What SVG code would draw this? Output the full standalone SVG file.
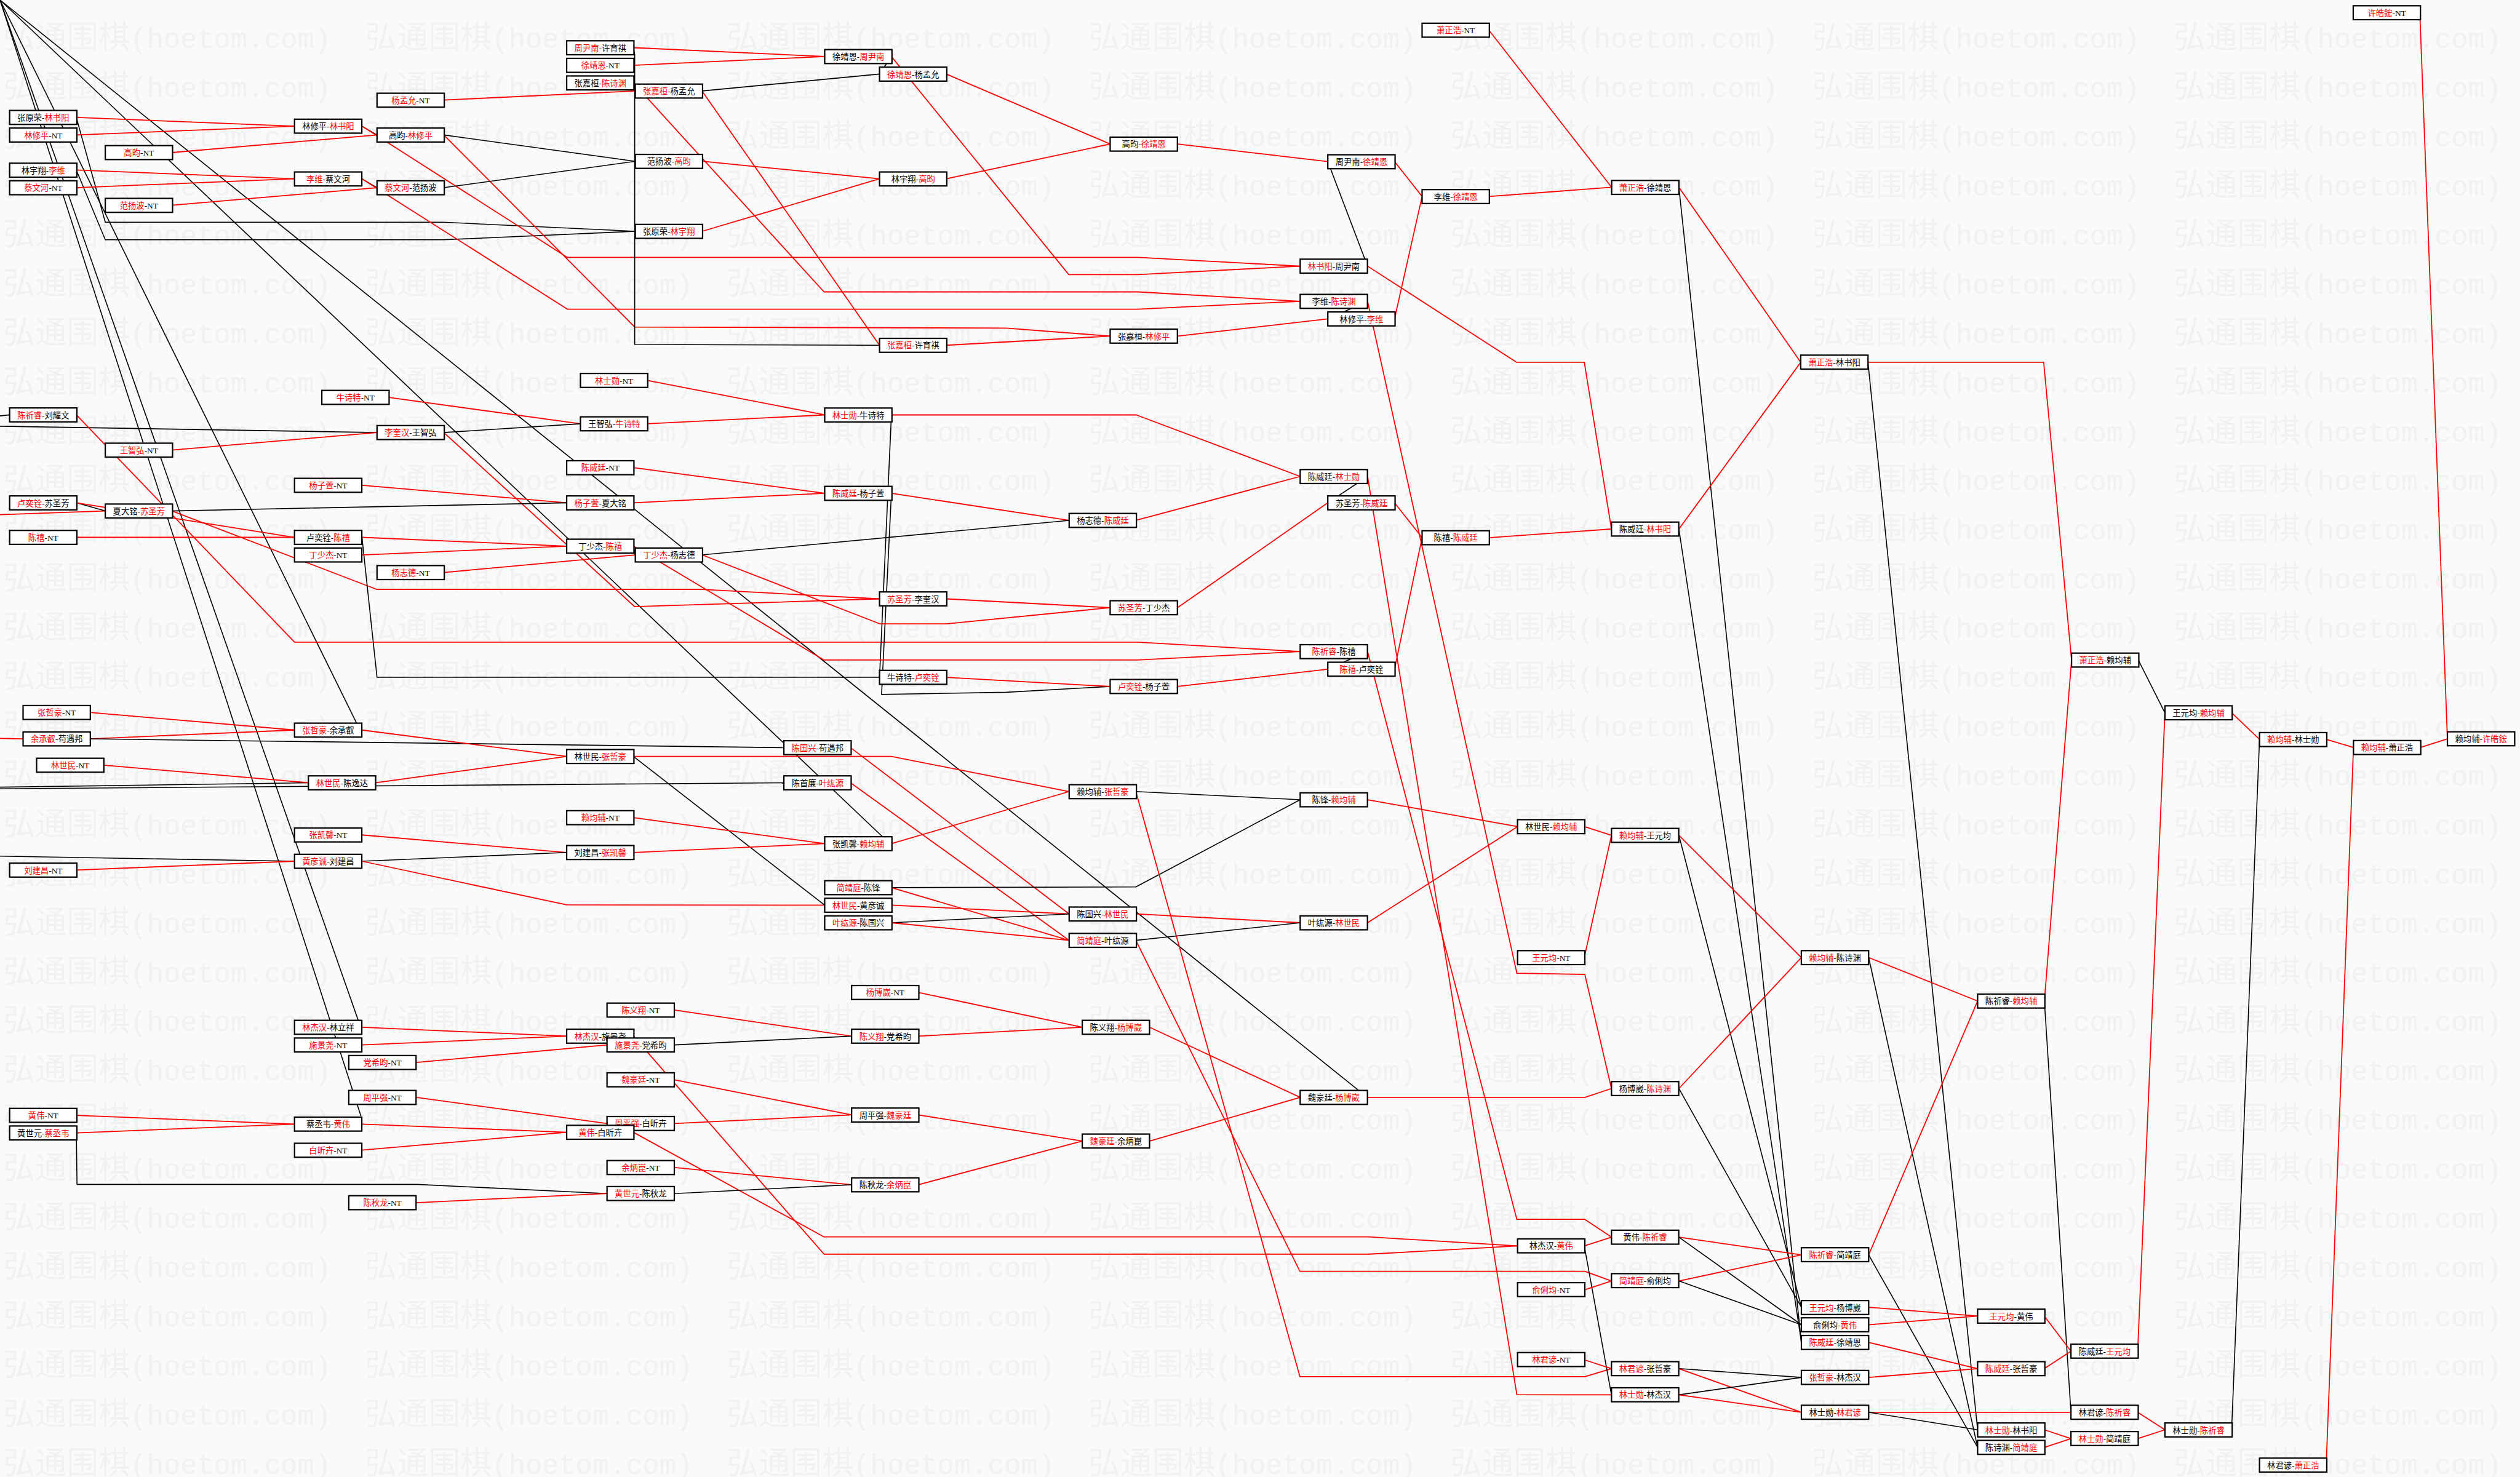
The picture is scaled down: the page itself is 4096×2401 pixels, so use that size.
<svg xmlns="http://www.w3.org/2000/svg" width="4096" height="2401" viewBox="0 0 4096 2401">
<style>
.e{fill:none;stroke-width:2;stroke-linejoin:round}
.r{stroke:#ff0000}
.k{stroke:#000000;stroke-width:1.8}
.node rect{fill:#ffffff;stroke:#000000;stroke-width:2.5}
.node text{font-family:"Liberation Serif","Noto Sans CJK SC",serif;font-size:15px;text-anchor:middle;fill:#000000}
.rt{fill:#ff0000}
.wm{font-family:"Liberation Mono","Noto Sans CJK SC",monospace;fill:#f1f1f1}
</style>
<defs>
<g id="wmrow" class="wm">
<text x="6"><tspan font-size="58">弘通围棋</tspan><tspan font-size="51">(hoetom.com)</tspan></text>
<text x="667.5"><tspan font-size="58">弘通围棋</tspan><tspan font-size="51">(hoetom.com)</tspan></text>
<text x="1329"><tspan font-size="58">弘通围棋</tspan><tspan font-size="51">(hoetom.com)</tspan></text>
<text x="1990.5"><tspan font-size="58">弘通围棋</tspan><tspan font-size="51">(hoetom.com)</tspan></text>
<text x="2652"><tspan font-size="58">弘通围棋</tspan><tspan font-size="51">(hoetom.com)</tspan></text>
<text x="3313.5"><tspan font-size="58">弘通围棋</tspan><tspan font-size="51">(hoetom.com)</tspan></text>
<text x="3975"><tspan font-size="58">弘通围棋</tspan><tspan font-size="51">(hoetom.com)</tspan></text>
</g>
</defs>
<rect x="0" y="0" width="4096" height="2401" fill="#fafafa"/>
<g transform="scale(0.888889)">
<g id="watermark">
<use href="#wmrow" y="88"/><use href="#wmrow" y="177.9"/><use href="#wmrow" y="267.8"/><use href="#wmrow" y="357.7"/><use href="#wmrow" y="447.6"/><use href="#wmrow" y="537.5"/><use href="#wmrow" y="627.4"/><use href="#wmrow" y="717.3"/><use href="#wmrow" y="807.2"/><use href="#wmrow" y="897.1"/><use href="#wmrow" y="987"/><use href="#wmrow" y="1076.9"/><use href="#wmrow" y="1166.8"/><use href="#wmrow" y="1256.7"/><use href="#wmrow" y="1346.6"/><use href="#wmrow" y="1436.5"/><use href="#wmrow" y="1526.4"/><use href="#wmrow" y="1616.3"/><use href="#wmrow" y="1706.2"/><use href="#wmrow" y="1796.1"/><use href="#wmrow" y="1886"/><use href="#wmrow" y="1975.9"/><use href="#wmrow" y="2065.8"/><use href="#wmrow" y="2155.7"/><use href="#wmrow" y="2245.6"/><use href="#wmrow" y="2335.5"/><use href="#wmrow" y="2425.4"/><use href="#wmrow" y="2515.3"/><use href="#wmrow" y="2605.2"/><use href="#wmrow" y="2695.1"/>
</g>
<g id="connectors" class="e">
<polyline class="k" points="0,0 2485.5,1995"/>
<polyline class="k" points="0,0 1621,1537"/>
<polyline class="k" points="0,0 656,1330.5"/>
<polyline class="k" points="0,0 660,2041"/>
<polyline class="k" points="0,0 660,1880"/>
<polyline class="k" points="0,760.6 17.6,758.7"/>
<polyline class="k" points="0,779.5 689.4,791"/>
<polyline class="r" points="0,941.3 192.5,934.4"/>
<polyline class="r" points="0,1350.5 42.2,1351.2"/>
<polyline class="k" points="0,1439.6 563.9,1431.5"/>
<polyline class="k" points="0,1442.5 1433.4,1431.5"/>
<polyline class="k" points="0,1565.8 538.6,1575"/>
<polyline class="r" points="139.6,214.7 538.6,230.7"/>
<polyline class="k" points="139.6,214.7 192.5,406.4 810,406.4 1161.7,423"/>
<polyline class="r" points="139.6,246.8 538.6,230.7"/>
<polyline class="r" points="314.5,279 689.4,246.8"/>
<polyline class="r" points="139.6,311 538.6,327"/>
<polyline class="k" points="139.6,311 192.5,438.5 810,438.5 1161.7,423"/>
<polyline class="r" points="139.6,343.2 538.6,327"/>
<polyline class="r" points="314.5,375.4 689.4,343.2"/>
<polyline class="k" points="661.9,230.7 689.4,246.8"/>
<polyline class="r" points="661.9,230.7 1037.4,470.7 2080.6,470.7 2377.5,486.7"/>
<polyline class="k" points="811.5,246.8 1161.7,295"/>
<polyline class="r" points="811.5,246.8 1160.6,598 1840,600 2030,614.7"/>
<polyline class="k" points="661.9,327 689.4,343.2"/>
<polyline class="r" points="661.9,327 1037.4,565.4 2080.6,565.4 2377.5,551"/>
<polyline class="k" points="811.5,343.2 1161.7,295"/>
<polyline class="r" points="811.5,183 1161.7,166.4"/>
<polyline class="r" points="711.7,727 1061.4,775"/>
<polyline class="r" points="139.6,758.7 538.6,1174.4 2080.6,1174.4 2377.5,1191.6"/>
<polyline class="k" points="811.5,791 1061.4,775"/>
<polyline class="r" points="811.5,791 1160.6,1109.5 1608.3,1095.2"/>
<polyline class="r" points="314.5,823 689.4,791"/>
<polyline class="r" points="661.9,887.4 1036.2,919.5"/>
<polyline class="r" points="1158.2,87.2 1508,103.3"/>
<polyline class="k" points="1158.2,87.2 1160.6,100 1160.6,630 1608.3,631.4"/>
<polyline class="r" points="1158.2,119.4 1508,103.3"/>
<polyline class="k" points="1158.2,151.5 1161.7,166.4"/>
<polyline class="r" points="1158.2,151.5 1506.8,533.8 2080.6,533.8 2377.5,551"/>
<polyline class="k" points="1283.8,166.4 1608.3,135.4"/>
<polyline class="r" points="1283.8,166.4 1608.3,631.4"/>
<polyline class="k" points="1630,103.3 1608.3,135.4"/>
<polyline class="r" points="1630,103.3 1954.4,502.2 2080.6,502.2 2377.5,486.7"/>
<polyline class="r" points="1730.3,135.4 2030,263.4"/>
<polyline class="r" points="1283.8,295 1608.3,327"/>
<polyline class="r" points="1283.8,423 1608.3,327"/>
<polyline class="r" points="1730.3,327 2030,263.4"/>
<polyline class="r" points="1730.3,631.4 2030,614.7"/>
<polyline class="r" points="1183.5,695.6 1508,758.8"/>
<polyline class="r" points="1183.5,775 1508,758.8"/>
<polyline class="r" points="1630,758.8 2077.7,758.8 2377.5,871.3"/>
<polyline class="k" points="1630,758.8 1608.3,1238.7"/>
<polyline class="r" points="1158.2,855.2 1508,902"/>
<polyline class="r" points="1630,902 1955,951.7"/>
<polyline class="k" points="1630,902 1612,1270 1840,1266 2030,1255.4"/>
<polyline class="r" points="2153.3,263.4 2428,295.5"/>
<polyline class="r" points="2550,295.5 2600.4,359.3"/>
<polyline class="k" points="2500.7,486.7 2428,295.5"/>
<polyline class="r" points="2500.7,486.7 2772.9,662.4 2897,662.4 2946.7,967.5"/>
<polyline class="k" points="2500.7,551 2428,583.2"/>
<polyline class="r" points="2500.7,551 2773.7,1779.8 2898,1782 2946.7,1990.7"/>
<polyline class="r" points="2550,583.2 2600.4,359.3"/>
<polyline class="r" points="2153.3,614.7 2428,583.2"/>
<polyline class="k" points="2500.7,871.3 2428,919.5"/>
<polyline class="r" points="2500.7,871.3 2773.7,2550.6 2946.7,2550.8"/>
<polyline class="k" points="139.6,919.5 192.5,934.4"/>
<polyline class="r" points="139.6,919.5 538.6,982.7"/>
<polyline class="k" points="314.5,934.4 1036.2,919.5"/>
<polyline class="r" points="314.5,934.4 689.4,1078 1283.8,1078 1608.3,1095.2"/>
<polyline class="r" points="139.6,982.7 538.6,982.7"/>
<polyline class="r" points="661.9,982.7 1036.2,998.8"/>
<polyline class="k" points="661.9,982.7 689.4,1238.6 1608.3,1238.7"/>
<polyline class="r" points="661.9,1014.8 1036.2,998.8"/>
<polyline class="r" points="811.5,1047 1161.7,1014.8"/>
<polyline class="r" points="164.3,1303 538.6,1335.1"/>
<polyline class="r" points="164.3,1351.2 538.6,1335.1"/>
<polyline class="k" points="164.3,1351.2 1433.4,1367.3"/>
<polyline class="r" points="190.1,1399.4 563.9,1431.5"/>
<polyline class="r" points="661.9,1335.1 1036.2,1383.3"/>
<polyline class="r" points="687.1,1431.5 1036.2,1383.3"/>
<polyline class="r" points="661.9,1526.9 1036.2,1559"/>
<polyline class="k" points="661.9,1575 1036.2,1559"/>
<polyline class="r" points="661.9,1575 1036.2,1654.8 1508,1655.4"/>
<polyline class="r" points="139.6,1591.1 538.6,1575"/>
<polyline class="r" points="1158.2,919.5 1508,902"/>
<polyline class="k" points="1158.2,998.8 1161.7,1014.8"/>
<polyline class="r" points="1158.2,998.8 1506.8,1207 2080.6,1207 2377.5,1191.6"/>
<polyline class="k" points="1283.8,1014.8 1955,951.7"/>
<polyline class="r" points="1283.8,1014.8 1609.4,1141 1730.3,1141 2030,1111.3"/>
<polyline class="r" points="1730.3,1095.2 2030,1111.3"/>
<polyline class="r" points="1730.3,1238.7 2030,1255.4"/>
<polyline class="r" points="1555.4,1367.3 1955,1671.4"/>
<polyline class="k" points="1158.2,1383.3 1508,1655.4"/>
<polyline class="r" points="1158.2,1383.3 1630,1383.3 1955,1447.6"/>
<polyline class="r" points="1555.4,1431.5 1955,1719.7"/>
<polyline class="r" points="1158.2,1495.3 1508,1542.9"/>
<polyline class="r" points="1630,1542.9 1955,1447.6"/>
<polyline class="r" points="1158.2,1559 1508,1542.9"/>
<polyline class="k" points="1630,1623.2 2077,1622 2377.5,1462.5"/>
<polyline class="r" points="1630,1623.2 1955,1719.7"/>
<polyline class="r" points="1630,1655.4 1955,1671.4"/>
<polyline class="k" points="1630,1687.5 1955,1671.4"/>
<polyline class="r" points="1630,1687.5 1955,1719.7"/>
<polyline class="r" points="2550,919.5 2600.4,983.3"/>
<polyline class="r" points="2077,951.7 2377.5,871.3"/>
<polyline class="r" points="2722.5,983.3 2946.7,967.5"/>
<polyline class="r" points="2153.3,1111.3 2428,919.5"/>
<polyline class="k" points="2500.7,1191.6 2428,1223.8"/>
<polyline class="r" points="2500.7,1191.6 2773.7,2230 2898,2230 2946.7,2262.5"/>
<polyline class="r" points="2550,1223.8 2600.4,983.3"/>
<polyline class="r" points="2153.3,1255.4 2428,1223.8"/>
<polyline class="k" points="2077,1447.6 2377.5,1462.5"/>
<polyline class="r" points="2077,1447.6 2377,2517.5 2898,2517.5 2946.7,2502.9"/>
<polyline class="r" points="2500.7,1462.5 2774.9,1511.6"/>
<polyline class="r" points="2077,1671.4 2377.5,1687.5"/>
<polyline class="r" points="2500.7,1687.5 2774.9,1511.6"/>
<polyline class="k" points="2077,1719.7 2377.5,1687.5"/>
<polyline class="r" points="2077,1719.7 2377,2325 2898,2325 2946.7,2342.6"/>
<polyline class="r" points="661.9,1878.7 1036.2,1894.9"/>
<polyline class="r" points="661.9,1910.9 1036.2,1894.9"/>
<polyline class="r" points="761,1943 1110,1910.9"/>
<polyline class="r" points="761,2006.9 1110,2054.6"/>
<polyline class="r" points="139.6,2039.7 538.6,2055.7"/>
<polyline class="r" points="661.9,2055.7 1036.2,2070.7"/>
<polyline class="r" points="139.6,2071.8 538.6,2055.7"/>
<polyline class="k" points="139.6,2071.8 140.8,2166 762.8,2166 1110,2182.7"/>
<polyline class="r" points="661.9,2103.4 1036.2,2070.7"/>
<polyline class="r" points="761,2199.4 1110,2182.7"/>
<polyline class="r" points="1679.3,1815 1979,1878.7"/>
<polyline class="r" points="1233.3,1847.2 1557.2,1894.9"/>
<polyline class="k" points="1158.2,1894.9 1110,1910.9"/>
<polyline class="r" points="1158.2,1894.9 1506.8,2293.6 2503,2293.6 2775,2278.6"/>
<polyline class="k" points="1233.3,1910.9 1557.2,1894.9"/>
<polyline class="r" points="1679.3,1894.9 1979,1878.7"/>
<polyline class="r" points="1233.3,1974.7 1557.2,2039"/>
<polyline class="r" points="1679.3,2039 1979,2086.7"/>
<polyline class="r" points="1233.3,2054.6 1557.2,2039"/>
<polyline class="k" points="1158.2,2070.7 1110,2054.6"/>
<polyline class="r" points="1158.2,2070.7 1506.8,2262 2503,2262 2775,2278.6"/>
<polyline class="r" points="1233.3,2135 1557.2,2166.6"/>
<polyline class="r" points="1679.3,2166.6 1979,2086.7"/>
<polyline class="k" points="1233.3,2182.7 1557.2,2166.6"/>
<polyline class="r" points="2102.3,1878.7 2377.5,2006.9"/>
<polyline class="r" points="2500.7,2006.9 2898,2006.9 2946.7,1990.7"/>
<polyline class="r" points="2102.3,2086.7 2377.5,2006.9"/>
<polyline class="r" points="4424.8,23 4475.3,1351.3"/>
<polyline class="r" points="3070,342.5 3292.8,662.5"/>
<polyline class="k" points="3070,342.5 3294,2455"/>
<polyline class="r" points="3415.7,662.5 3737,662.5 3788,1207"/>
<polyline class="k" points="3415.7,662.5 3616.2,2614.8"/>
<polyline class="r" points="3070,967.5 3292.8,662.5"/>
<polyline class="k" points="3070,967.5 3294,2455"/>
<polyline class="k" points="3910,1207 3958.7,1303.4"/>
<polyline class="r" points="4080.7,1303.4 4131.7,1352"/>
<polyline class="r" points="4253.7,1352 4303.5,1367"/>
<polyline class="r" points="4425.6,1367 4475.3,1351.3"/>
<polyline class="r" points="2897,1511.6 2946.7,1527.7"/>
<polyline class="r" points="3070,1527.7 3293.9,1751.1"/>
<polyline class="k" points="3070,1527.7 3294,2390.7"/>
<polyline class="r" points="2897,1751.1 2946.7,1527.7"/>
<polyline class="r" points="3417,1751.1 3616.2,1830.7"/>
<polyline class="k" points="3417,1751.1 3616.2,2646.9"/>
<polyline class="r" points="3738.3,1830.7 3788,1207"/>
<polyline class="k" points="3738.3,1830.7 3786.9,2582.8"/>
<polyline class="r" points="3070,1990.7 3293.9,1751.1"/>
<polyline class="k" points="3070,1990.7 3294,2390.7"/>
<polyline class="r" points="3070,2262.5 3294,2294.9"/>
<polyline class="k" points="3070,2262.5 3294,2422.7"/>
<polyline class="r" points="2897,2278.6 2946.7,2262.5"/>
<polyline class="k" points="2897,2278.6 2946.7,2550.8"/>
<polyline class="r" points="3417,2294.9 3616.2,1830.7"/>
<polyline class="k" points="3417,2294.9 3616.2,2646.9"/>
<polyline class="r" points="3070,2342.6 3294,2294.9"/>
<polyline class="k" points="3070,2342.6 3294,2422.7"/>
<polyline class="r" points="2897,2358.9 2946.7,2342.6"/>
<polyline class="r" points="3417,2390.7 3616.2,2406.9"/>
<polyline class="r" points="3417,2422.7 3616.2,2406.9"/>
<polyline class="r" points="3738.3,2406.9 3786.9,2471"/>
<polyline class="r" points="3417,2455 3616.2,2502.9"/>
<polyline class="r" points="3908.9,2471 3958.7,1303.4"/>
<polyline class="r" points="2897,2486.8 2946.7,2502.9"/>
<polyline class="r" points="3738.3,2502.9 3786.9,2471"/>
<polyline class="k" points="3070,2502.9 3294,2519"/>
<polyline class="r" points="3070,2502.9 3294,2582.8"/>
<polyline class="r" points="3417,2519 3616.2,2502.9"/>
<polyline class="k" points="3070,2550.8 3294,2519"/>
<polyline class="r" points="3070,2550.8 3294,2582.8"/>
<polyline class="r" points="3417,2582.8 3786.9,2582.8"/>
<polyline class="k" points="3417,2582.8 3616.2,2614.8"/>
<polyline class="r" points="3908.9,2582.8 3958.7,2614.8"/>
<polyline class="r" points="3738.3,2614.8 3786.9,2630.9"/>
<polyline class="k" points="4080.7,2614.8 4131.7,1352"/>
<polyline class="r" points="3908.9,2630.9 3958.7,2614.8"/>
<polyline class="r" points="3738.3,2646.9 3786.9,2630.9"/>
<polyline class="r" points="4253.7,2678.9 4303.5,1367"/>
<polyline class="r" points="2722.5,55.1 2947,342.5"/>
<polyline class="r" points="2722.5,359.3 2947,342.5"/>
</g>
<g id="nodes">
<g id="n1" class="node"><rect x="689.4" y="170.5" width="123" height="25.5"/><text x="750.9" y="189"><tspan class="rt">杨孟允</tspan>-NT</text></g>
<g id="n2" class="node"><rect x="17.6" y="202" width="123" height="25.5"/><text x="79.1" y="220.5">张原荣-<tspan class="rt">林书阳</tspan></text></g>
<g id="n3" class="node"><rect x="17.6" y="234.2" width="123" height="25.5"/><text x="79.1" y="252.7"><tspan class="rt">林修平</tspan>-NT</text></g>
<g id="n4" class="node"><rect x="192.5" y="266.3" width="123" height="25.5"/><text x="254" y="284.8"><tspan class="rt">高昀</tspan>-NT</text></g>
<g id="n5" class="node"><rect x="17.6" y="298.5" width="123" height="25.5"/><text x="79.1" y="317">林宇翔-<tspan class="rt">李维</tspan></text></g>
<g id="n6" class="node"><rect x="17.6" y="330.6" width="123" height="25.5"/><text x="79.1" y="349.1"><tspan class="rt">蔡文河</tspan>-NT</text></g>
<g id="n7" class="node"><rect x="192.5" y="362.8" width="123" height="25.5"/><text x="254" y="381.3"><tspan class="rt">范扬波</tspan>-NT</text></g>
<g id="n8" class="node"><rect x="538.6" y="218" width="123" height="25.5"/><text x="600.1" y="236.5">林修平-<tspan class="rt">林书阳</tspan></text></g>
<g id="n9" class="node"><rect x="689.4" y="234.2" width="123" height="25.5"/><text x="750.9" y="252.7">高昀-<tspan class="rt">林修平</tspan></text></g>
<g id="n10" class="node"><rect x="538.6" y="314.5" width="123" height="25.5"/><text x="600.1" y="333"><tspan class="rt">李维</tspan>-蔡文河</text></g>
<g id="n11" class="node"><rect x="689.4" y="330.6" width="123" height="25.5"/><text x="750.9" y="349.1"><tspan class="rt">蔡文河</tspan>-范扬波</text></g>
<g id="n12" class="node"><rect x="588.5" y="714" width="123" height="25.5"/><text x="650" y="732.5"><tspan class="rt">牛诗特</tspan>-NT</text></g>
<g id="n13" class="node"><rect x="17.6" y="746" width="123" height="25.5"/><text x="79.1" y="764.5"><tspan class="rt">陈祈睿</tspan>-刘耀文</text></g>
<g id="n14" class="node"><rect x="689.4" y="778.3" width="123" height="25.5"/><text x="750.9" y="796.8"><tspan class="rt">李奎汉</tspan>-王智弘</text></g>
<g id="n15" class="node"><rect x="192.5" y="810.5" width="123" height="25.5"/><text x="254" y="829"><tspan class="rt">王智弘</tspan>-NT</text></g>
<g id="n16" class="node"><rect x="538.6" y="874.8" width="123" height="25.5"/><text x="600.1" y="893.3"><tspan class="rt">杨子萱</tspan>-NT</text></g>
<g id="n17" class="node"><rect x="1036.2" y="74.6" width="123" height="25.5"/><text x="1097.7" y="93.1"><tspan class="rt">周尹南</tspan>-许育祺</text></g>
<g id="n18" class="node"><rect x="1036.2" y="106.8" width="123" height="25.5"/><text x="1097.7" y="125.3"><tspan class="rt">徐靖恩</tspan>-NT</text></g>
<g id="n19" class="node"><rect x="1036.2" y="138.9" width="123" height="25.5"/><text x="1097.7" y="157.4">张嘉桓-<tspan class="rt">陈诗渊</tspan></text></g>
<g id="n20" class="node"><rect x="1161.7" y="153.8" width="123" height="25.5"/><text x="1223.2" y="172.3"><tspan class="rt">张嘉桓</tspan>-杨孟允</text></g>
<g id="n21" class="node"><rect x="1508" y="90.7" width="123" height="25.5"/><text x="1569.5" y="109.2">徐靖恩-<tspan class="rt">周尹南</tspan></text></g>
<g id="n22" class="node"><rect x="1608.3" y="122.8" width="123" height="25.5"/><text x="1669.8" y="141.3"><tspan class="rt">徐靖恩</tspan>-杨孟允</text></g>
<g id="n23" class="node"><rect x="1161.7" y="282.4" width="123" height="25.5"/><text x="1223.2" y="300.9">范扬波-<tspan class="rt">高昀</tspan></text></g>
<g id="n24" class="node"><rect x="1608.3" y="314.5" width="123" height="25.5"/><text x="1669.8" y="333">林宇翔-<tspan class="rt">高昀</tspan></text></g>
<g id="n25" class="node"><rect x="1161.7" y="410.4" width="123" height="25.5"/><text x="1223.2" y="428.9">张原荣-<tspan class="rt">林宇翔</tspan></text></g>
<g id="n26" class="node"><rect x="1608.3" y="618.8" width="123" height="25.5"/><text x="1669.8" y="637.3"><tspan class="rt">张嘉桓</tspan>-许育祺</text></g>
<g id="n27" class="node"><rect x="1061.4" y="683" width="123" height="25.5"/><text x="1122.9" y="701.5"><tspan class="rt">林士勋</tspan>-NT</text></g>
<g id="n28" class="node"><rect x="1061.4" y="762.3" width="123" height="25.5"/><text x="1122.9" y="780.8">王智弘-<tspan class="rt">牛诗特</tspan></text></g>
<g id="n29" class="node"><rect x="1508" y="746.2" width="123" height="25.5"/><text x="1569.5" y="764.7"><tspan class="rt">林士勋</tspan>-牛诗特</text></g>
<g id="n30" class="node"><rect x="1036.2" y="842.6" width="123" height="25.5"/><text x="1097.7" y="861.1"><tspan class="rt">陈威廷</tspan>-NT</text></g>
<g id="n31" class="node"><rect x="1508" y="889.5" width="123" height="25.5"/><text x="1569.5" y="908"><tspan class="rt">陈威廷</tspan>-杨子萱</text></g>
<g id="n32" class="node"><rect x="2600.4" y="42.5" width="123" height="25.5"/><text x="2661.9" y="61"><tspan class="rt">萧正浩</tspan>-NT</text></g>
<g id="n33" class="node"><rect x="2030" y="250.8" width="123" height="25.5"/><text x="2091.5" y="269.3">高昀-<tspan class="rt">徐靖恩</tspan></text></g>
<g id="n34" class="node"><rect x="2428" y="283" width="123" height="25.5"/><text x="2489.5" y="301.5">周尹南-<tspan class="rt">徐靖恩</tspan></text></g>
<g id="n35" class="node"><rect x="2600.4" y="346.7" width="123" height="25.5"/><text x="2661.9" y="365.2">李维-<tspan class="rt">徐靖恩</tspan></text></g>
<g id="n36" class="node"><rect x="2377.5" y="474" width="123" height="25.5"/><text x="2439" y="492.5"><tspan class="rt">林书阳</tspan>-周尹南</text></g>
<g id="n37" class="node"><rect x="2377.5" y="538.4" width="123" height="25.5"/><text x="2439" y="556.9">李维-<tspan class="rt">陈诗渊</tspan></text></g>
<g id="n38" class="node"><rect x="2428" y="570.5" width="123" height="25.5"/><text x="2489.5" y="589">林修平-<tspan class="rt">李维</tspan></text></g>
<g id="n39" class="node"><rect x="2030" y="602" width="123" height="25.5"/><text x="2091.5" y="620.5">张嘉桓-<tspan class="rt">林修平</tspan></text></g>
<g id="n40" class="node"><rect x="2377.5" y="858.7" width="123" height="25.5"/><text x="2439" y="877.2">陈威廷-<tspan class="rt">林士勋</tspan></text></g>
<g id="n41" class="node"><rect x="17.6" y="906.9" width="123" height="25.5"/><text x="79.1" y="925.4"><tspan class="rt">卢奕铨</tspan>-苏圣芳</text></g>
<g id="n42" class="node"><rect x="192.5" y="921.8" width="123" height="25.5"/><text x="254" y="940.3">夏大铭-<tspan class="rt">苏圣芳</tspan></text></g>
<g id="n43" class="node"><rect x="17.6" y="970" width="123" height="25.5"/><text x="79.1" y="988.5"><tspan class="rt">陈禧</tspan>-NT</text></g>
<g id="n44" class="node"><rect x="538.6" y="970" width="123" height="25.5"/><text x="600.1" y="988.5">卢奕铨-<tspan class="rt">陈禧</tspan></text></g>
<g id="n45" class="node"><rect x="538.6" y="1002.2" width="123" height="25.5"/><text x="600.1" y="1020.7"><tspan class="rt">丁少杰</tspan>-NT</text></g>
<g id="n46" class="node"><rect x="689.4" y="1034.3" width="123" height="25.5"/><text x="750.9" y="1052.8"><tspan class="rt">杨志德</tspan>-NT</text></g>
<g id="n47" class="node"><rect x="42.2" y="1290.3" width="123" height="25.5"/><text x="103.7" y="1308.8"><tspan class="rt">张哲豪</tspan>-NT</text></g>
<g id="n48" class="node"><rect x="42.2" y="1338.5" width="123" height="25.5"/><text x="103.7" y="1357"><tspan class="rt">余承叡</tspan>-苟遇邦</text></g>
<g id="n49" class="node"><rect x="66.9" y="1386.7" width="123" height="25.5"/><text x="128.4" y="1405.2"><tspan class="rt">林世民</tspan>-NT</text></g>
<g id="n50" class="node"><rect x="538.6" y="1322.5" width="123" height="25.5"/><text x="600.1" y="1341"><tspan class="rt">张哲豪</tspan>-余承叡</text></g>
<g id="n51" class="node"><rect x="563.9" y="1418.9" width="123" height="25.5"/><text x="625.4" y="1437.4"><tspan class="rt">林世民</tspan>-陈逸达</text></g>
<g id="n52" class="node"><rect x="538.6" y="1514.2" width="123" height="25.5"/><text x="600.1" y="1532.7"><tspan class="rt">张凯馨</tspan>-NT</text></g>
<g id="n53" class="node"><rect x="538.6" y="1562.4" width="123" height="25.5"/><text x="600.1" y="1580.9"><tspan class="rt">黄彦诚</tspan>-刘建昌</text></g>
<g id="n54" class="node"><rect x="17.6" y="1578.5" width="123" height="25.5"/><text x="79.1" y="1597"><tspan class="rt">刘建昌</tspan>-NT</text></g>
<g id="n55" class="node"><rect x="1036.2" y="906.9" width="123" height="25.5"/><text x="1097.7" y="925.4"><tspan class="rt">杨子萱</tspan>-夏大铭</text></g>
<g id="n56" class="node"><rect x="1036.2" y="986.1" width="123" height="25.5"/><text x="1097.7" y="1004.6">丁少杰-<tspan class="rt">陈禧</tspan></text></g>
<g id="n57" class="node"><rect x="1161.7" y="1002.2" width="123" height="25.5"/><text x="1223.2" y="1020.7"><tspan class="rt">丁少杰</tspan>-杨志德</text></g>
<g id="n58" class="node"><rect x="1608.3" y="1082.5" width="123" height="25.5"/><text x="1669.8" y="1101"><tspan class="rt">苏圣芳</tspan>-李奎汉</text></g>
<g id="n59" class="node"><rect x="1608.3" y="1226" width="123" height="25.5"/><text x="1669.8" y="1244.5">牛诗特-<tspan class="rt">卢奕铨</tspan></text></g>
<g id="n60" class="node"><rect x="1433.4" y="1354.6" width="123" height="25.5"/><text x="1494.9" y="1373.1"><tspan class="rt">陈国兴</tspan>-苟遇邦</text></g>
<g id="n61" class="node"><rect x="1036.2" y="1370.7" width="123" height="25.5"/><text x="1097.7" y="1389.2">林世民-<tspan class="rt">张哲豪</tspan></text></g>
<g id="n62" class="node"><rect x="1433.4" y="1418.9" width="123" height="25.5"/><text x="1494.9" y="1437.4">陈首廉-<tspan class="rt">叶纮源</tspan></text></g>
<g id="n63" class="node"><rect x="1036.2" y="1482.6" width="123" height="25.5"/><text x="1097.7" y="1501.1"><tspan class="rt">赖均辅</tspan>-NT</text></g>
<g id="n64" class="node"><rect x="1508" y="1530.2" width="123" height="25.5"/><text x="1569.5" y="1548.7">张凯馨-<tspan class="rt">赖均辅</tspan></text></g>
<g id="n65" class="node"><rect x="1036.2" y="1546.3" width="123" height="25.5"/><text x="1097.7" y="1564.8">刘建昌-<tspan class="rt">张凯馨</tspan></text></g>
<g id="n66" class="node"><rect x="1508" y="1610.6" width="123" height="25.5"/><text x="1569.5" y="1629.1"><tspan class="rt">简靖庭</tspan>-陈锋</text></g>
<g id="n67" class="node"><rect x="1508" y="1642.7" width="123" height="25.5"/><text x="1569.5" y="1661.2"><tspan class="rt">林世民</tspan>-黄彦诚</text></g>
<g id="n68" class="node"><rect x="1508" y="1674.9" width="123" height="25.5"/><text x="1569.5" y="1693.4"><tspan class="rt">叶纮源</tspan>-陈国兴</text></g>
<g id="n69" class="node"><rect x="2428" y="906.9" width="123" height="25.5"/><text x="2489.5" y="925.4">苏圣芳-<tspan class="rt">陈威廷</tspan></text></g>
<g id="n70" class="node"><rect x="1955" y="939" width="123" height="25.5"/><text x="2016.5" y="957.5">杨志德-<tspan class="rt">陈威廷</tspan></text></g>
<g id="n71" class="node"><rect x="2600.4" y="970.6" width="123" height="25.5"/><text x="2661.9" y="989.1">陈禧-<tspan class="rt">陈威廷</tspan></text></g>
<g id="n72" class="node"><rect x="2030" y="1098.6" width="123" height="25.5"/><text x="2091.5" y="1117.1"><tspan class="rt">苏圣芳</tspan>-丁少杰</text></g>
<g id="n73" class="node"><rect x="2377.5" y="1179" width="123" height="25.5"/><text x="2439" y="1197.5"><tspan class="rt">陈祈睿</tspan>-陈禧</text></g>
<g id="n74" class="node"><rect x="2428" y="1211.1" width="123" height="25.5"/><text x="2489.5" y="1229.6"><tspan class="rt">陈禧</tspan>-卢奕铨</text></g>
<g id="n75" class="node"><rect x="2030" y="1242.7" width="123" height="25.5"/><text x="2091.5" y="1261.2"><tspan class="rt">卢奕铨</tspan>-杨子萱</text></g>
<g id="n76" class="node"><rect x="1955" y="1435" width="123" height="25.5"/><text x="2016.5" y="1453.5">赖均辅-<tspan class="rt">张哲豪</tspan></text></g>
<g id="n77" class="node"><rect x="2377.5" y="1449.9" width="123" height="25.5"/><text x="2439" y="1468.4">陈锋-<tspan class="rt">赖均辅</tspan></text></g>
<g id="n78" class="node"><rect x="1955" y="1658.8" width="123" height="25.5"/><text x="2016.5" y="1677.3">陈国兴-<tspan class="rt">林世民</tspan></text></g>
<g id="n79" class="node"><rect x="2377.5" y="1674.9" width="123" height="25.5"/><text x="2439" y="1693.4">叶纮源-<tspan class="rt">林世民</tspan></text></g>
<g id="n80" class="node"><rect x="1955" y="1707" width="123" height="25.5"/><text x="2016.5" y="1725.5"><tspan class="rt">简靖庭</tspan>-叶纮源</text></g>
<g id="n81" class="node"><rect x="538.6" y="1866" width="123" height="25.5"/><text x="600.1" y="1884.5"><tspan class="rt">林杰汉</tspan>-林立祥</text></g>
<g id="n82" class="node"><rect x="538.6" y="1898.3" width="123" height="25.5"/><text x="600.1" y="1916.8"><tspan class="rt">施景尧</tspan>-NT</text></g>
<g id="n83" class="node"><rect x="637.8" y="1930.4" width="123" height="25.5"/><text x="699.3" y="1948.9"><tspan class="rt">党希昀</tspan>-NT</text></g>
<g id="n84" class="node"><rect x="637.8" y="1994.2" width="123" height="25.5"/><text x="699.3" y="2012.7"><tspan class="rt">周平强</tspan>-NT</text></g>
<g id="n85" class="node"><rect x="17.6" y="2027" width="123" height="25.5"/><text x="79.1" y="2045.5"><tspan class="rt">黄伟</tspan>-NT</text></g>
<g id="n86" class="node"><rect x="538.6" y="2043" width="123" height="25.5"/><text x="600.1" y="2061.5">蔡丞韦-<tspan class="rt">黄伟</tspan></text></g>
<g id="n87" class="node"><rect x="17.6" y="2059.2" width="123" height="25.5"/><text x="79.1" y="2077.7">黄世元-<tspan class="rt">蔡丞韦</tspan></text></g>
<g id="n88" class="node"><rect x="538.6" y="2090.8" width="123" height="25.5"/><text x="600.1" y="2109.3"><tspan class="rt">白昕卉</tspan>-NT</text></g>
<g id="n89" class="node"><rect x="637.8" y="2186.7" width="123" height="25.5"/><text x="699.3" y="2205.2"><tspan class="rt">陈秋龙</tspan>-NT</text></g>
<g id="n90" class="node"><rect x="1557.2" y="1802.3" width="123" height="25.5"/><text x="1618.7" y="1820.8"><tspan class="rt">杨博崴</tspan>-NT</text></g>
<g id="n91" class="node"><rect x="1110" y="1834.5" width="123" height="25.5"/><text x="1171.5" y="1853"><tspan class="rt">陈义翔</tspan>-NT</text></g>
<g id="n92" class="node"><rect x="1036.2" y="1882.2" width="123" height="25.5"/><text x="1097.7" y="1900.7"><tspan class="rt">林杰汉</tspan>-施景尧</text></g>
<g id="n93" class="node"><rect x="1110" y="1898.3" width="123" height="25.5"/><text x="1171.5" y="1916.8"><tspan class="rt">施景尧</tspan>-党希昀</text></g>
<g id="n94" class="node"><rect x="1557.2" y="1882.2" width="123" height="25.5"/><text x="1618.7" y="1900.7"><tspan class="rt">陈义翔</tspan>-党希昀</text></g>
<g id="n95" class="node"><rect x="1110" y="1962" width="123" height="25.5"/><text x="1171.5" y="1980.5"><tspan class="rt">魏豪廷</tspan>-NT</text></g>
<g id="n96" class="node"><rect x="1557.2" y="2026.4" width="123" height="25.5"/><text x="1618.7" y="2044.9">周平强-<tspan class="rt">魏豪廷</tspan></text></g>
<g id="n97" class="node"><rect x="1110" y="2041.9" width="123" height="25.5"/><text x="1171.5" y="2060.4"><tspan class="rt">周平强</tspan>-白昕卉</text></g>
<g id="n98" class="node"><rect x="1036.2" y="2058" width="123" height="25.5"/><text x="1097.7" y="2076.5"><tspan class="rt">黄伟</tspan>-白昕卉</text></g>
<g id="n99" class="node"><rect x="1110" y="2122.4" width="123" height="25.5"/><text x="1171.5" y="2140.9"><tspan class="rt">余炳崑</tspan>-NT</text></g>
<g id="n100" class="node"><rect x="1557.2" y="2154" width="123" height="25.5"/><text x="1618.7" y="2172.5">陈秋龙-<tspan class="rt">余炳崑</tspan></text></g>
<g id="n101" class="node"><rect x="1110" y="2170" width="123" height="25.5"/><text x="1171.5" y="2188.5"><tspan class="rt">黄世元</tspan>-陈秋龙</text></g>
<g id="n102" class="node"><rect x="1979" y="1866" width="123" height="25.5"/><text x="2040.5" y="1884.5">陈义翔-<tspan class="rt">杨博崴</tspan></text></g>
<g id="n103" class="node"><rect x="2377.5" y="1994.2" width="123" height="25.5"/><text x="2439" y="2012.7">魏豪廷-<tspan class="rt">杨博崴</tspan></text></g>
<g id="n104" class="node"><rect x="1979" y="2074" width="123" height="25.5"/><text x="2040.5" y="2092.5"><tspan class="rt">魏豪廷</tspan>-余炳崑</text></g>
<g id="n105" class="node"><rect x="4303" y="10.5" width="123" height="25.5"/><text x="4364.5" y="29"><tspan class="rt">许皓鋐</tspan>-NT</text></g>
<g id="n106" class="node"><rect x="2947" y="330" width="123" height="25.5"/><text x="3008.5" y="348.5"><tspan class="rt">萧正浩</tspan>-徐靖恩</text></g>
<g id="n107" class="node"><rect x="3292.8" y="649.5" width="123" height="25.5"/><text x="3354.3" y="668"><tspan class="rt">萧正浩</tspan>-林书阳</text></g>
<g id="n108" class="node"><rect x="2946.7" y="954.8" width="123" height="25.5"/><text x="3008.2" y="973.3">陈威廷-<tspan class="rt">林书阳</tspan></text></g>
<g id="n109" class="node"><rect x="3788" y="1194.4" width="123" height="25.5"/><text x="3849.5" y="1212.9"><tspan class="rt">萧正浩</tspan>-赖均辅</text></g>
<g id="n110" class="node"><rect x="3958.7" y="1290.8" width="123" height="25.5"/><text x="4020.2" y="1309.3">王元均-<tspan class="rt">赖均辅</tspan></text></g>
<g id="n111" class="node"><rect x="4131.7" y="1339.8" width="123" height="25.5"/><text x="4193.2" y="1358.3"><tspan class="rt">赖均辅</tspan>-林士勋</text></g>
<g id="n112" class="node"><rect x="4303.5" y="1354.3" width="123" height="25.5"/><text x="4365" y="1372.8"><tspan class="rt">赖均辅</tspan>-萧正浩</text></g>
<g id="n113" class="node"><rect x="4475.3" y="1338.3" width="123" height="25.5"/><text x="4536.8" y="1356.8">赖均辅-<tspan class="rt">许皓鋐</tspan></text></g>
<g id="n114" class="node"><rect x="2774.9" y="1499" width="123" height="25.5"/><text x="2836.4" y="1517.5">林世民-<tspan class="rt">赖均辅</tspan></text></g>
<g id="n115" class="node"><rect x="2946.7" y="1515" width="123" height="25.5"/><text x="3008.2" y="1533.5"><tspan class="rt">赖均辅</tspan>-王元均</text></g>
<g id="n116" class="node"><rect x="2775" y="1738.5" width="123" height="25.5"/><text x="2836.5" y="1757"><tspan class="rt">王元均</tspan>-NT</text></g>
<g id="n117" class="node"><rect x="3293.9" y="1738.5" width="123" height="25.5"/><text x="3355.4" y="1757"><tspan class="rt">赖均辅</tspan>-陈诗渊</text></g>
<g id="n118" class="node"><rect x="3616.2" y="1818" width="123" height="25.5"/><text x="3677.7" y="1836.5">陈祈睿-<tspan class="rt">赖均辅</tspan></text></g>
<g id="n119" class="node"><rect x="2946.7" y="1978" width="123" height="25.5"/><text x="3008.2" y="1996.5">杨博崴-<tspan class="rt">陈诗渊</tspan></text></g>
<g id="n120" class="node"><rect x="2946.7" y="2249.8" width="123" height="25.5"/><text x="3008.2" y="2268.3">黄伟-<tspan class="rt">陈祈睿</tspan></text></g>
<g id="n121" class="node"><rect x="2775" y="2265.6" width="123" height="25.5"/><text x="2836.5" y="2284.1">林杰汉-<tspan class="rt">黄伟</tspan></text></g>
<g id="n122" class="node"><rect x="3294" y="2281.8" width="123" height="25.5"/><text x="3355.5" y="2300.3"><tspan class="rt">陈祈睿</tspan>-简靖庭</text></g>
<g id="n123" class="node"><rect x="2946.7" y="2329.2" width="123" height="25.5"/><text x="3008.2" y="2347.7"><tspan class="rt">简靖庭</tspan>-俞俐均</text></g>
<g id="n124" class="node"><rect x="2775" y="2345.7" width="123" height="25.5"/><text x="2836.5" y="2364.2"><tspan class="rt">俞俐均</tspan>-NT</text></g>
<g id="n125" class="node"><rect x="3294" y="2378.4" width="123" height="25.5"/><text x="3355.5" y="2396.9"><tspan class="rt">王元均</tspan>-杨博崴</text></g>
<g id="n126" class="node"><rect x="3294" y="2410" width="123" height="25.5"/><text x="3355.5" y="2428.5">俞俐均-<tspan class="rt">黄伟</tspan></text></g>
<g id="n127" class="node"><rect x="3616.2" y="2394.2" width="123" height="25.5"/><text x="3677.7" y="2412.7"><tspan class="rt">王元均</tspan>-黄伟</text></g>
<g id="n128" class="node"><rect x="3294" y="2442.4" width="123" height="25.5"/><text x="3355.5" y="2460.9"><tspan class="rt">陈威廷</tspan>-徐靖恩</text></g>
<g id="n129" class="node"><rect x="3786.9" y="2458.2" width="123" height="25.5"/><text x="3848.4" y="2476.7">陈威廷-<tspan class="rt">王元均</tspan></text></g>
<g id="n130" class="node"><rect x="2775" y="2473.6" width="123" height="25.5"/><text x="2836.5" y="2492.1"><tspan class="rt">林君谚</tspan>-NT</text></g>
<g id="n131" class="node"><rect x="3616.2" y="2490.2" width="123" height="25.5"/><text x="3677.7" y="2508.7"><tspan class="rt">陈威廷</tspan>-张哲豪</text></g>
<g id="n132" class="node"><rect x="2946.7" y="2490.2" width="123" height="25.5"/><text x="3008.2" y="2508.7"><tspan class="rt">林君谚</tspan>-张哲豪</text></g>
<g id="n133" class="node"><rect x="3294" y="2506.3" width="123" height="25.5"/><text x="3355.5" y="2524.8"><tspan class="rt">张哲豪</tspan>-林杰汉</text></g>
<g id="n134" class="node"><rect x="2946.7" y="2538" width="123" height="25.5"/><text x="3008.2" y="2556.5"><tspan class="rt">林士勋</tspan>-林杰汉</text></g>
<g id="n135" class="node"><rect x="3294" y="2570" width="123" height="25.5"/><text x="3355.5" y="2588.5">林士勋-<tspan class="rt">林君谚</tspan></text></g>
<g id="n136" class="node"><rect x="3786.9" y="2570" width="123" height="25.5"/><text x="3848.4" y="2588.5">林君谚-<tspan class="rt">陈祈睿</tspan></text></g>
<g id="n137" class="node"><rect x="3616.2" y="2602.3" width="123" height="25.5"/><text x="3677.7" y="2620.8"><tspan class="rt">林士勋</tspan>-林书阳</text></g>
<g id="n138" class="node"><rect x="3958.7" y="2602.3" width="123" height="25.5"/><text x="4020.2" y="2620.8">林士勋-<tspan class="rt">陈祈睿</tspan></text></g>
<g id="n139" class="node"><rect x="3786.9" y="2618" width="123" height="25.5"/><text x="3848.4" y="2636.5"><tspan class="rt">林士勋</tspan>-简靖庭</text></g>
<g id="n140" class="node"><rect x="3616.2" y="2634.2" width="123" height="25.5"/><text x="3677.7" y="2652.7">陈诗渊-<tspan class="rt">简靖庭</tspan></text></g>
<g id="n141" class="node"><rect x="4131.7" y="2666.6" width="123" height="25.5"/><text x="4193.2" y="2685.1">林君谚-<tspan class="rt">萧正浩</tspan></text></g>
</g>
</g>
</svg>
